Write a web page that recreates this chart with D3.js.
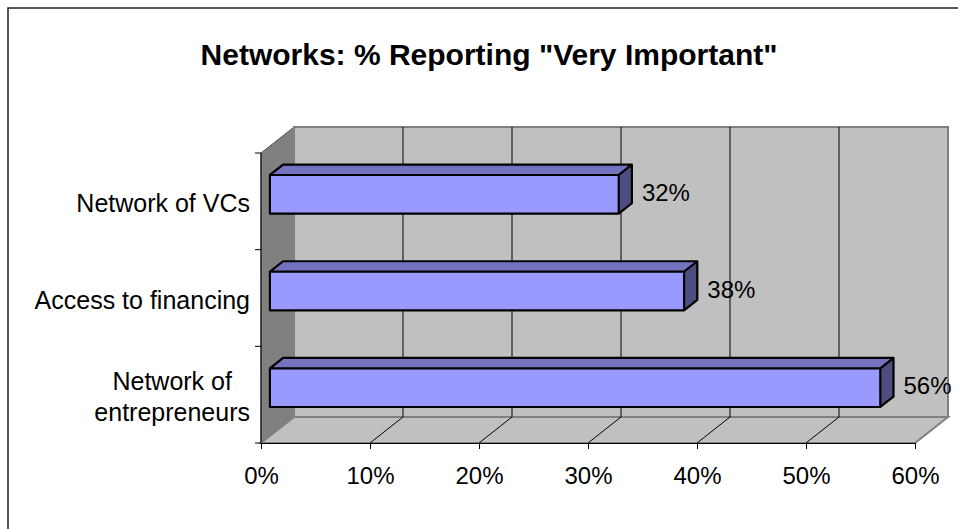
<!DOCTYPE html>
<html>
<head>
<meta charset="utf-8">
<script src="https://cdn.jsdelivr.net/npm/d3@7"></script>
<style>
    body { margin: 0; background: #fff; }
    text { font-family: Arial, "Liberation Sans", sans-serif; }
</style>
</head>
<body>
<script>
//chart data
var categories = ["Network of VCs", "Access to financing", "Network of entrepreneurs"];
var categoryLines = [["Network of VCs"], ["Access to financing"], ["Network of", "entrepreneurs"]];
var values = [0.32, 0.38, 0.56];
var xTicks = [0, 0.1, 0.2, 0.3, 0.4, 0.5, 0.6];

window.onload = drawChart();

function drawChart(){

    var width = 958,
        height = 529;

    //3d depth offset of the plot box
    var depthX = 33,
        depthY = -26;
    //bar sits between these depth fractions
    var zFront = 0.27,
        zBack = 0.67;

    var svg = d3.select("body")
        .append("svg")
        .attr("width", width)
        .attr("height", height);

    //outer frame
    svg.append("rect")
        .attr("x", 8)
        .attr("y", 8)
        .attr("width", 970)
        .attr("height", 540)
        .attr("fill", "none")
        .attr("stroke", "#222")
        .attr("stroke-width", 1.5);

    var x = d3.scaleLinear()
        .domain([0, 0.6])
        .range([261, 915]);

    var y = d3.scaleBand()
        .domain(categories)
        .range([153, 443])
        .paddingInner(0.6)
        .paddingOuter(0.3);

    var top = y.range()[0],
        bottom = y.range()[1];

    //project a point into the depth of the box
    function p(px, py, z){
        return [px + depthX * z, py + depthY * z];
    }

    var line = function(pts){ return "M" + pts.map(function(d){ return d.join(","); }).join("L") + "Z"; };

    //left wall
    svg.append("path")
        .attr("d", line([p(x(0), top, 0), p(x(0), top, 1), p(x(0), bottom, 1), p(x(0), bottom, 0)]))
        .attr("fill", "#808080")
        .attr("stroke", "#555")
        .attr("stroke-width", 1);

    //back wall
    svg.append("path")
        .attr("d", line([p(x(0), top, 1), p(x(0.6), top, 1), p(x(0.6), bottom, 1), p(x(0), bottom, 1)]))
        .attr("fill", "#c0c0c0")
        .attr("stroke", "#808080")
        .attr("stroke-width", 2);

    //floor
    svg.append("path")
        .attr("d", line([p(x(0), bottom, 0), p(x(0.6), bottom, 0), p(x(0.6), bottom, 1), p(x(0), bottom, 1)]))
        .attr("fill", "#c0c0c0")
        .attr("stroke", "#808080")
        .attr("stroke-width", 2);

    //gridlines on back wall
    svg.selectAll(".grid")
        .data(xTicks.slice(1, -1))
        .enter()
        .append("line")
        .attr("class", "grid")
        .attr("x1", function(d){ return p(x(d), top, 1)[0]; })
        .attr("y1", function(d){ return p(x(d), top, 1)[1]; })
        .attr("x2", function(d){ return p(x(d), bottom, 1)[0]; })
        .attr("y2", function(d){ return p(x(d), bottom, 1)[1]; })
        .attr("stroke", "#000")
        .attr("stroke-width", 1);

    //gridlines on floor
    svg.selectAll(".floorgrid")
        .data(xTicks.slice(1, -1))
        .enter()
        .append("line")
        .attr("class", "floorgrid")
        .attr("x1", function(d){ return x(d); })
        .attr("y1", bottom)
        .attr("x2", function(d){ return p(x(d), bottom, 1)[0]; })
        .attr("y2", function(d){ return p(x(d), bottom, 1)[1]; })
        .attr("stroke", "#000")
        .attr("stroke-width", 1);

    //x axis
    var xAxis = d3.axisBottom(x)
        .tickValues(xTicks)
        .tickFormat(d3.format(".0%"))
        .tickSize(6)
        .tickSizeOuter(0);

    var gx = svg.append("g")
        .attr("transform", "translate(0," + bottom + ")")
        .call(xAxis);
    gx.select(".domain").attr("stroke", "#000");
    gx.selectAll(".tick line").attr("stroke", "#000");
    gx.selectAll(".tick text")
        .attr("y", 41)
        .attr("dy", null)
        .attr("font-size", 24)
        .attr("font-family", "Arial, 'Liberation Sans', sans-serif")
        .attr("fill", "#000");

    //y axis line and ticks at band boundaries
    var yTicks = [top].concat(categories.map(function(c){ return y(c) + y.bandwidth() + y.step() * 0.3; }));
    svg.append("line")
        .attr("x1", x(0)).attr("y1", top)
        .attr("x2", x(0)).attr("y2", bottom)
        .attr("stroke", "#000");
    svg.selectAll(".ytick")
        .data(yTicks)
        .enter()
        .append("line")
        .attr("class", "ytick")
        .attr("x1", x(0) - 6).attr("x2", x(0))
        .attr("y1", function(d){ return d; })
        .attr("y2", function(d){ return d; })
        .attr("stroke", "#000");

    //bars
    var bars = svg.selectAll(".bar")
        .data(values)
        .enter()
        .append("g")
        .attr("class", "bar");

    bars.append("path")
        .attr("d", function(d, i){
            var y0 = y(categories[i]);
            return line([p(x(0), y0, zFront), p(x(d), y0, zFront), p(x(d), y0, zBack), p(x(0), y0, zBack)]);
        })
        .attr("fill", "#7373bf");

    bars.append("path")
        .attr("d", function(d, i){
            var y0 = y(categories[i]), y1 = y0 + y.bandwidth();
            return line([p(x(d), y0, zFront), p(x(d), y0, zBack), p(x(d), y1, zBack), p(x(d), y1, zFront)]);
        })
        .attr("fill", "#4d4d80");

    bars.append("path")
        .attr("d", function(d, i){
            var y0 = y(categories[i]), y1 = y0 + y.bandwidth();
            return line([p(x(0), y0, zFront), p(x(d), y0, zFront), p(x(d), y1, zFront), p(x(0), y1, zFront)]);
        })
        .attr("fill", "#9999ff");

    //bar outlines
    bars.append("path")
        .attr("d", function(d, i){
            var y0 = y(categories[i]), y1 = y0 + y.bandwidth();
            var a = p(x(0), y0, zFront), b = p(x(d), y0, zFront), c = p(x(d), y1, zFront), e = p(x(0), y1, zFront);
            var bt = p(x(d), y0, zBack), bb = p(x(d), y1, zBack), at = p(x(0), y0, zBack);
            return line([a, b, c, e]) + " M" + a + "L" + at + "L" + bt + "L" + bb + "L" + c + " M" + b + "L" + bt;
        })
        .attr("fill", "none")
        .attr("stroke", "#000")
        .attr("stroke-width", 2.2)
        .attr("stroke-linejoin", "round");

    //value labels
    bars.append("text")
        .attr("x", function(d){ return x(d) + depthX * zBack + 10; })
        .attr("y", function(d, i){ return y(categories[i]) + y.bandwidth() / 2 + depthY * 0.47 + 12; })
        .attr("font-size", 24)
        .attr("fill", "#000")
        .text(function(d){ return d3.format(".0%")(d); });

    //category labels, lines centred on each other, block right aligned
    var labels = svg.selectAll(".cat")
        .data(categoryLines)
        .enter()
        .append("text")
        .attr("class", "cat")
        .attr("font-size", 25)
        .attr("fill", "#000")
        .attr("text-anchor", "middle");

    labels.each(function(lines, i){
        var t = d3.select(this);
        var cy = y(categories[i]) + y.bandwidth() / 2;
        var lineH = 31;
        var first = cy + 11 - (lines.length - 1) * lineH / 2;
        lines.forEach(function(s, j){
            t.append("tspan").attr("y", first + j * lineH).text(s);
        });
        var w = d3.max(t.selectAll("tspan").nodes(), function(n){ return n.getComputedTextLength(); });
        t.selectAll("tspan").attr("x", 250 - w / 2);
    });

    //title
    svg.append("text")
        .attr("x", 489)
        .attr("y", 65)
        .attr("text-anchor", "middle")
        .attr("font-size", 30)
        .attr("font-weight", "bold")
        .attr("fill", "#000")
        .text("Networks: % Reporting \"Very Important\"");
};
</script>
</body>
</html>
